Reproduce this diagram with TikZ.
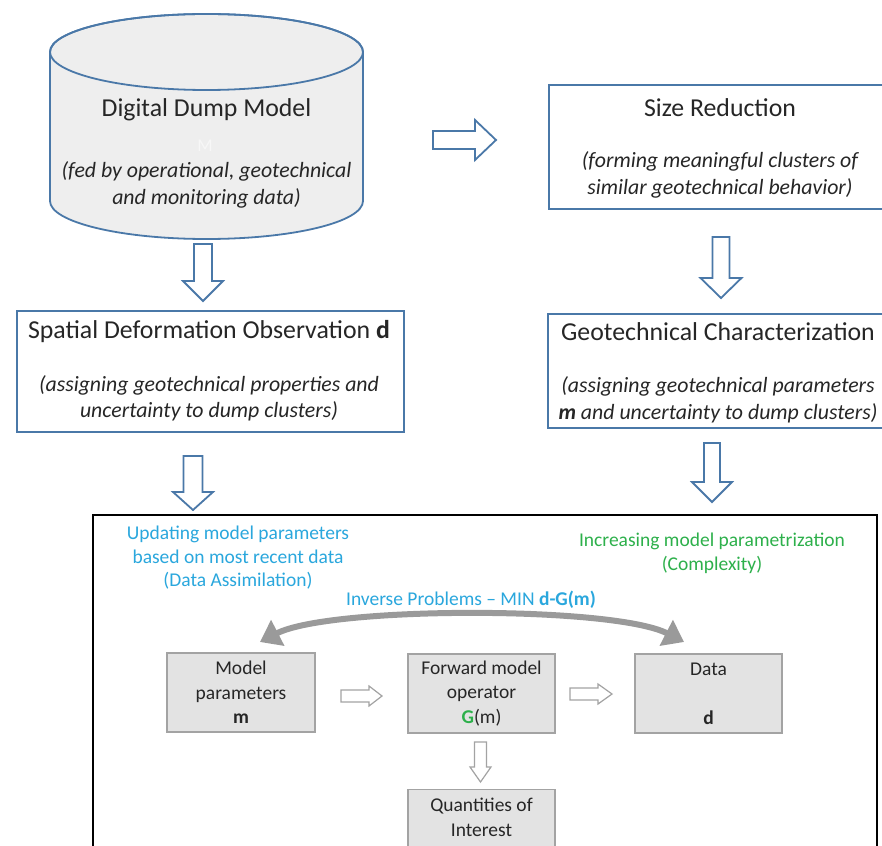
\documentclass[tikz,border=0pt]{standalone}
\usepackage{fontspec}
\setmainfont{Carlito}
\usetikzlibrary{arrows.meta}
\definecolor{bblue}{HTML}{4A78A8}
\definecolor{cylfill}{HTML}{EEEEEE}
\definecolor{txt}{HTML}{262626}
\definecolor{cyantxt}{HTML}{2AA7DD}
\definecolor{greentxt}{HTML}{2DB04B}
\definecolor{gboxfill}{HTML}{E3E3E3}
\definecolor{gboxdraw}{HTML}{A3A3A3}
\definecolor{garrow}{HTML}{9A9A9A}
\definecolor{faint}{HTML}{F7F7F7}
\newcommand{\BlkDown}[7]{\draw[#1] ({#2-#6},#3) -- ({#2+#6},#3) -- ({#2+#6},#4) -- ({#2+#7},#4) -- (#2,#5) -- ({#2-#7},#4) -- ({#2-#6},#4) -- cycle;}
\newcommand{\BlkRight}[7]{\draw[#1] (#3,{#2-#6}) -- (#4,{#2-#6}) -- (#4,{#2-#7}) -- (#5,#2) -- (#4,{#2+#7}) -- (#4,{#2+#6}) -- (#3,{#2+#6}) -- cycle;}
\tikzset{
  bluebox/.style={draw=bblue, line width=1.8pt, fill=white, rectangle, inner sep=0pt},
  bluearrow/.style={draw=bblue, line width=1.8pt, fill=white, line join=miter},
  grayarrow/.style={draw=gboxdraw, line width=1.2pt, fill=white, line join=miter},
  gbox/.style={draw=gboxdraw, line width=1.3pt, fill=gboxfill, rectangle, inner sep=0pt, text=txt, align=center, font=\fontsize{19.5}{24.5}\selectfont},
  title/.style={inner sep=0pt, text=txt, font=\fontsize{25.8}{30}\selectfont},
  sub/.style={inner sep=0pt, text=txt, align=center, font=\fontsize{21.8}{26.5}\selectfont\itshape},
  small/.style={inner sep=0pt, align=center, font=\fontsize{19.5}{23.5}\selectfont},
}
\begin{document}
\begin{tikzpicture}[x=1pt,y=-1pt]
\useasboundingbox (0,0) rectangle (882,845);
\clip (0,0) rectangle (882,845);
\fill[white] (0,0) rectangle (882,845);
% cylinder
\filldraw[fill=cylfill, draw=bblue, line width=1.8pt]
  (50,52) -- (50,201) arc[start angle=180, end angle=0, x radius=156.5, y radius=38]
  -- (363,52) arc[start angle=0, end angle=-180, x radius=156.5, y radius=38] -- cycle;
\draw[draw=bblue, line width=1.8pt] (206.5,52) ellipse [x radius=156.5, y radius=38];
\node[title] (ddm) at (206.5,110) {Digital Dump Model};
\node[inner sep=0pt, text=faint, font=\fontsize{18}{20}\selectfont] (ddmM) at (205,146) {M};
\node[sub] (ddmsub) at (206.5,185) {(fed by operational, geotechnical\\and monitoring data)};
% size reduction
\node[bluebox, minimum width=344, minimum height=124, anchor=north west] (size) at (548,84) {};
\node[title] (sizet) at (720,108) {Size Reduction};
\node[sub] (sizes) at (720,175) {(forming meaningful clusters of\\similar geotechnical behavior)};
% spatial
\node[bluebox, minimum width=387, minimum height=121, anchor=north west] (spat) at (16,310) {};
\node[title] (spatt) at (209,332) {Spatial Deformation Observation \textbf{d}};
\node[sub] (spats) at (209,398.5) {(assigning geotechnical properties and\\uncertainty to dump clusters)};
% geotech
\node[bluebox, minimum width=342, minimum height=114, anchor=north west] (geo) at (547,313) {};
\node[title] (geot) at (718,332) {Geotechnical Characterization};
\node[sub] (geos) at (718,400) {(assigning geotechnical parameters\\\textbf{m} and uncertainty to dump clusters)};
% block arrows
\BlkRight{bluearrow}{140}{433}{475}{496}{9}{20}
\BlkDown{bluearrow}{203}{244}{281}{301}{9}{20}
\BlkDown{bluearrow}{721}{237}{278}{298}{8.5}{20.5}
\BlkDown{bluearrow}{193}{456}{492}{510}{9.5}{20}
\BlkDown{bluearrow}{712}{443}{482}{502}{8}{20}
% main box
\node[draw=black, line width=2pt, minimum width=784, minimum height=360, anchor=north west, inner sep=0pt] (main) at (92,514) {};
\node[small, text=cyantxt] (upd) at (238,558) {Updating model parameters\\based on most recent data\\(Data Assimilation)};
\node[small, text=greentxt] (inc) at (712,553.5) {Increasing model parametrization\\(Complexity)};
\node[small, text=cyantxt] (inv) at (471,600) {Inverse Problems – MIN \textbf{d-G(m)}};
\coordinate (ipL) at (260,642);
\coordinate (ipR) at (684,642);
\draw[garrow, line width=6pt, {Triangle[length=20pt,width=28pt]}-{Triangle[length=20pt,width=28pt]}]
  (ipL) .. controls (330,606) and (614,606) .. (ipR);
% gray boxes
\node[gbox, minimum width=148, minimum height=79] (mp) at (241,692.5) {Model\\parameters\\\textbf{m}};
\node[gbox, minimum width=147, minimum height=79] (fwd) at (481.5,693.5) {Forward model\\operator\\\textbf{\textcolor{greentxt}{G}}(m)};
\node[gbox, minimum width=147, minimum height=79] (dat) at (708.5,693.5) {Data\\\mbox{}\\\textbf{d}};
\node[gbox, minimum width=147, minimum height=80, anchor=north] (qoi) at (481.5,789) {};
\node[inner sep=0pt, text=txt, align=center, font=\fontsize{19.5}{24.5}\selectfont] (qoit) at (481.5,817.5) {Quantities of\\Interest};
% small arrows
\BlkRight{grayarrow}{696}{341}{369}{382}{6}{10}
\BlkRight{grayarrow}{694}{570}{598}{612}{6}{10}
\BlkDown{grayarrow}{480.5}{742}{767}{782}{6}{10.5}
\end{tikzpicture}
\end{document}
